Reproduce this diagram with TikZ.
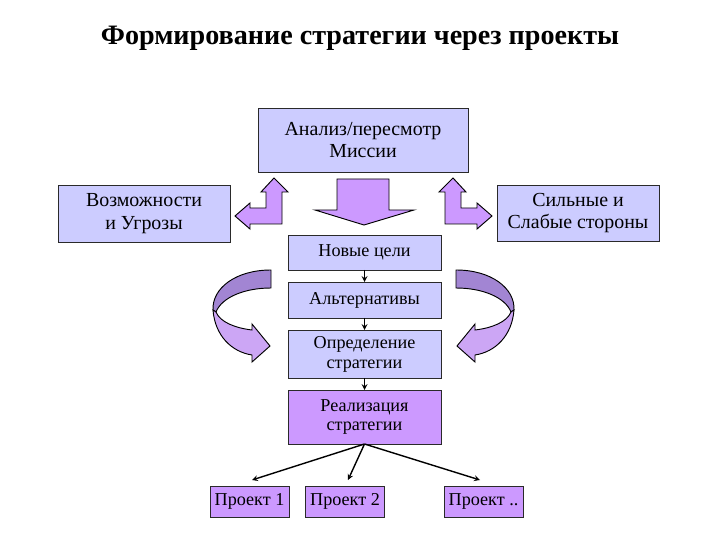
\documentclass[tikz,border=0pt]{standalone}
\usepackage{fontspec}
\setmainfont{Liberation Serif}
\definecolor{boxlight}{HTML}{CCCCFF}
\definecolor{boxdark}{HTML}{CC99FF}
\definecolor{arrowlight}{HTML}{CCA6F5}
\definecolor{arrowdark}{HTML}{A285D3}
\definecolor{edge}{HTML}{2A2A2A}
\begin{document}
\begin{tikzpicture}[x=0.03cm, y=-0.03cm, >=stealth,
    box/.style={draw=edge, line width=0.8pt, inner sep=0pt, outer sep=0pt, align=center, text=black},
    bigtext/.style={font=\fontsize{17}{19.5}\selectfont},
    smalltext/.style={font=\fontsize{15.5}{17}\selectfont},
    arrowshape/.style={draw=black, line width=0.8pt, line join=miter}]
  \useasboundingbox (0,0) rectangle (720,540);
  % title
  \node[font=\bfseries\fontsize{24}{27}\selectfont] (title) at (360,38) {Формирование стратегии через проекты};
  % top row
  \node[box, bigtext, fill=boxlight, minimum width=6.3cm, minimum height=1.92cm] (mission) at (363,140) {Анализ/пересмотр\\Миссии};
  \node[box, bigtext, fill=boxlight, minimum width=5.16cm, minimum height=1.71cm] (opps) at (144,213.5) {Возможности\\и Угрозы};
  \node[box, bigtext, fill=boxlight, minimum width=4.86cm, minimum height=1.68cm] (strengths) at (578,213) {Сильные и\\Слабые стороны};
  % central column
  \foreach \nm / \yy / \hh / \col / \txt in {goals/252.5/1.05/boxlight/{Новые цели}, alts/300/1.08/boxlight/{Альтернативы},
      def/354/1.44/boxlight/{Определение\\стратегии}, real/417/1.62/boxdark/{Реализация\\стратегии}} {
    \node[box, smalltext, fill=\col, minimum width=4.59cm, minimum height=\hh cm] (\nm) at (364.5,\yy) {\txt};
  }
  \foreach \a / \b in {goals/alts, alts/def, def/real} {
    \draw[->, line width=1.2pt] (\a) -- (\b);
  }
  % projects
  \foreach \nm / \xx / \txt in {p1/249.5/{Проект 1}, p2/345/{Проект 2}, p3/483.5/{Проект ..}} {
    \node[box, smalltext, fill=boxdark, minimum width=2.37cm, minimum height=0.93cm] (\nm) at (\xx,501.5) {\txt};
  }
  \foreach \i / \xx in {1/252, 2/348, 3/480} {
    \coordinate (end\i) at (\xx,480);
    \draw[->, line width=1.2pt] (real.south) -- (end\i);
  }
  % big down arrow
  \draw[arrowshape, fill=boxdark] (337,179) -- (389,179) -- (389,210) -- (414,210) -- (364,225) -- (315,210) -- (337,210) -- cycle;
  % bent arrows and curved arrows, right side mirrored
  \foreach \s / \f in {0/1, 727/-1} {
    \begin{scope}[shift={(\s,0)}, xscale=\f]
      \draw[arrowshape, fill=boxdark] (235,216) -- (250,203) -- (250,208) -- (266,208) -- (266,192) -- (261,192)
        -- (274,178) -- (288,192) -- (282,192) -- (282,224) -- (250,224) -- (250,229) -- cycle;
      \draw[arrowshape, fill=arrowdark] (271,270) .. controls (236,270) and (212,288) .. (213,310)
        -- (216,312) .. controls (222,297) and (245,288) .. (271,288) -- cycle;
      \draw[arrowshape, fill=arrowlight] (213,310) .. controls (215,336) and (232,352) .. (252,355)
        -- (252,362) -- (270,346) -- (252,324) -- (252,330) .. controls (235,328) and (220,322) .. (216,312) -- cycle;
    \end{scope}
  }
\end{tikzpicture}
\end{document}
